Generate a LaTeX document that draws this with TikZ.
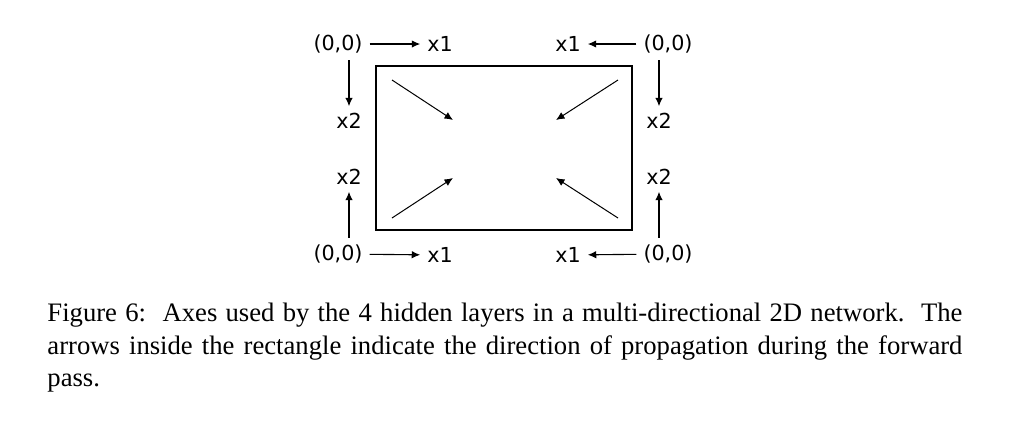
\documentclass[tikz,border=0pt]{standalone}
\usepackage{fontspec}
\setmainfont{Liberation Serif}
\newfontfamily\axisfont{DejaVu Sans}
\usetikzlibrary{arrows.meta}

\begin{document}
\begin{tikzpicture}[x=0.45pt,y=-0.45pt,
  axislabel/.style={inner sep=3pt,font=\axisfont\fontsize{9.3}{11}\selectfont},
  axisarrow/.style={-{Latex[length=3.8pt,width=3.4pt]},line width=0.5pt},
  flowarrow/.style={-{Latex[length=3.8pt,width=3.4pt]},line width=0.45pt}]
\useasboundingbox (0,0) rectangle (1036,428);

\node (grid) at (504,148) [draw,line width=0.5pt,shape=rectangle,inner sep=0pt,minimum width=115.2pt,minimum height=73.8pt] {};

% top left corner
\node (tlorig) at (338,44) [axislabel] {(0,0)};
\node (tlxone) at (440,44) [axislabel] {x1};
\node (tlxtwo) at (349,121) [axislabel] {x2};
% top right corner
\node (trorig) at (668,44) [axislabel] {(0,0)};
\node (trxone) at (568,44) [axislabel] {x1};
\node (trxtwo) at (659,121) [axislabel] {x2};
% bottom left corner
\node (blorig) at (338,254) [axislabel] {(0,0)};
\node (blxone) at (440,255) [axislabel] {x1};
\node (blxtwo) at (349,177) [axislabel] {x2};
% bottom right corner
\node (brorig) at (668,254) [axislabel] {(0,0)};
\node (brxone) at (568,255) [axislabel] {x1};
\node (brxtwo) at (659,177) [axislabel] {x2};

\draw [axisarrow] (tlorig) -- (tlxone);
\draw [axisarrow] (tlorig.south -| tlxtwo) -- (tlxtwo);
\draw [axisarrow] (trorig) -- (trxone);
\draw [axisarrow] (trorig.south -| trxtwo) -- (trxtwo);
\draw [axisarrow] (blorig) -- (blxone);
\draw [axisarrow] (blorig.north -| blxtwo) -- (blxtwo);
\draw [axisarrow] (brorig) -- (brxone);
\draw [axisarrow] (brorig.north -| brxtwo) -- (brxtwo);

% propagation inside the grid
\coordinate (tlfrom) at (392,80);
\coordinate (tlto) at (453,120);
\coordinate (trfrom) at (618,80);
\coordinate (trto) at (556,120);
\coordinate (blfrom) at (392,218);
\coordinate (blto) at (453,178);
\coordinate (brfrom) at (618,218);
\coordinate (brto) at (556,178);
\draw [flowarrow] (tlfrom) -- (tlto);
\draw [flowarrow] (trfrom) -- (trto);
\draw [flowarrow] (blfrom) -- (blto);
\draw [flowarrow] (brfrom) -- (brto);

\node (caption) at (47,303) [anchor=north west,inner sep=0pt,text width=411.75pt,align=justify,font=\fontsize{12}{14.6}\selectfont]
  {Figure 6:\ \ Axes used by the 4 hidden layers in a multi-directional 2D network.\ \ The arrows inside the rectangle indicate the direction of propagation during the forward pass.};
\end{tikzpicture}
\end{document}
